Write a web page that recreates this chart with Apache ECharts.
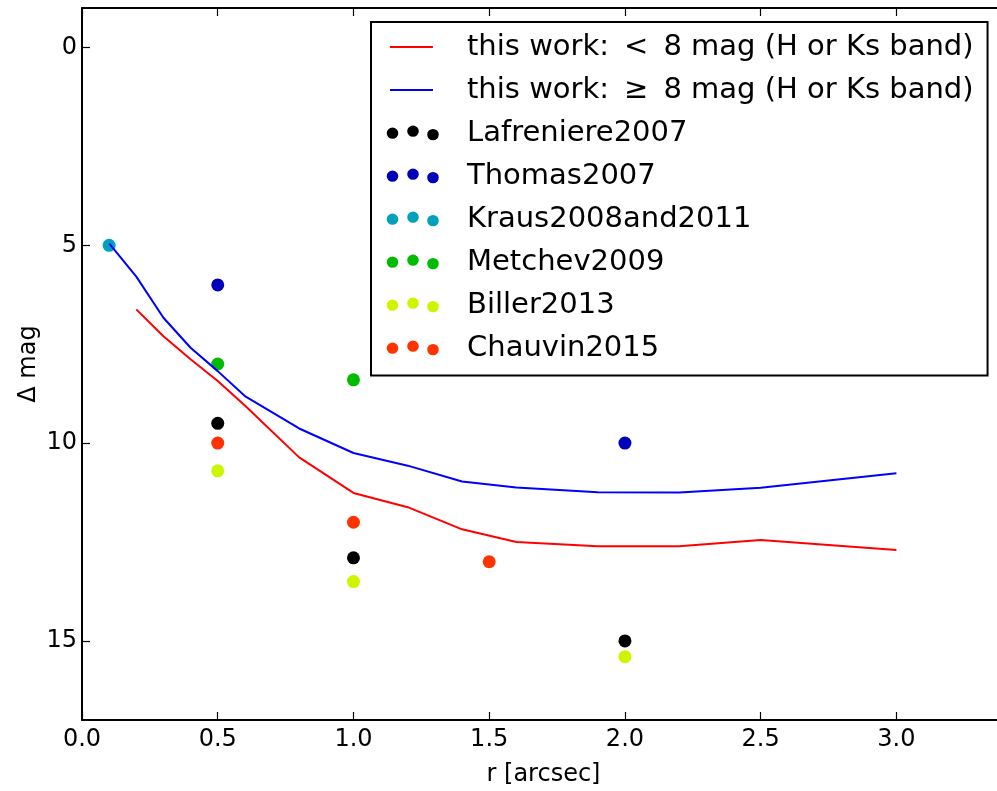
<!DOCTYPE html>
<html>
<head>
<meta charset="utf-8">
<script src="https://cdn.jsdelivr.net/npm/echarts@6/dist/echarts.min.js"></script>
<style>
  html, body { margin: 0; padding: 0; background: #fff; }
  #chart { width: 997px; height: 791px; }
</style>
</head>
<body>
<div id="chart"></div>
<script>
// Contrast curves from this work (separation in arcsec vs. delta magnitude)
const brightR   = [0.2, 0.3, 0.4, 0.5, 0.6, 0.8, 1.0, 1.2, 1.4, 1.6, 1.9, 2.2, 2.5, 3.0];
const brightMag = [6.62, 7.30, 7.88, 8.43, 9.05, 10.36, 11.26, 11.62, 12.18, 12.50, 12.61, 12.61, 12.45, 12.70];
const faintR    = [0.1, 0.2, 0.3, 0.4, 0.5, 0.6, 0.8, 1.0, 1.2, 1.4, 1.6, 1.9, 2.2, 2.5, 3.0];
const faintMag  = [4.95, 5.79, 6.83, 7.59, 8.18, 8.81, 9.63, 10.25, 10.57, 10.97, 11.12, 11.24, 11.25, 11.13, 10.76];

// Literature contrast limits: [r, delta mag]
const lafreniere2007 = [[0.5, 9.5], [1.0, 12.9], [2.0, 15.0]];
const thomas2007     = [[0.5, 6.0], [2.0, 10.0]];
const kraus2008      = [[0.1, 5.0]];
const metchev2009    = [[0.5, 8.0], [1.0, 8.4]];
const biller2013     = [[0.5, 10.7], [1.0, 13.5], [2.0, 15.4]];
const chauvin2015    = [[0.5, 10.0], [1.0, 12.0], [1.5, 13.0]];

// Axis ticks
const xTicks = [0.0, 0.5, 1.0, 1.5, 2.0, 2.5, 3.0];
const yTicks = [0, 5, 10, 15];

const lineNames = [
  'this work:\u2009 <\u2009 8 mag (H or Ks band)',
  'this work:\u2009 \u2265\u2009 8 mag (H or Ks band)'
];

const FONT = 'DejaVu Sans';

// legend glyphs: a short line, and three scattered dots
const lineIcon = 'path://M0,0L0.01,0M53,15L53.01,15M4,6.5L47,6.5L47,8.5L4,8.5Z';
function dot(cx, cy, r) {
  return 'M' + (cx - r) + ',' + cy + 'a' + r + ',' + r + ' 0 1,0 ' + (2 * r) + ',0' +
         'a' + r + ',' + r + ' 0 1,0 ' + (-2 * r) + ',0Z';
}
const dotsIcon = 'path://M0,0L0.01,0M53,15L53.01,15' +
  dot(6.5, 7.5, 5.8) + dot(27, 5.5, 5.8) + dot(47, 9, 5.8);

function zip(xs, ys) { return xs.map((x, i) => [x, ys[i]]); }

const scatterSets = [
  { name: 'Lafreniere2007',   color: '#000000', data: lafreniere2007 },
  { name: 'Thomas2007',       color: '#0000bb', data: thomas2007 },
  { name: 'Kraus2008and2011', color: '#00a2bb', data: kraus2008 },
  { name: 'Metchev2009',      color: '#00bb00', data: metchev2009 },
  { name: 'Biller2013',       color: '#ccf500', data: biller2013 },
  { name: 'Chauvin2015',      color: '#ff3300', data: chauvin2015 }
];

const axisLineStyle = { color: '#000', width: 2 };
const tickStyle = { color: '#000', width: 1.2 };

const option = {
  animation: false,
  backgroundColor: '#fff',
  // the frame runs slightly past the right edge of the canvas
  grid: { left: 82, top: 8, width: 923, height: 712, containLabel: false, outerBoundsMode: 'none' },
  legend: {
    left: 371, top: 22,
    orient: 'vertical',
    selectedMode: false,
    backgroundColor: '#fff',
    borderColor: '#000',
    borderWidth: 2,
    borderRadius: 0,
    padding: [3.5, 14, 6, 15],
    itemGap: 0,
    itemWidth: 53,
    itemHeight: 15,
    symbolKeepAspect: false,
    textStyle: {
      fontFamily: FONT, fontSize: 29, color: '#000',
      lineHeight: 43, padding: [0, 0, 0, 23]
    },
    data: [
      { name: lineNames[0], icon: lineIcon },
      { name: lineNames[1], icon: lineIcon }
    ].concat(scatterSets.map(s => ({ name: s.name, icon: dotsIcon })))
  },
  xAxis: [
    {
      type: 'value', position: 'bottom', min: 0, max: 3.4,
      name: 'r [arcsec]', nameLocation: 'middle', nameGap: 43,
      nameTextStyle: { fontFamily: FONT, fontSize: 24, color: '#000' },
      axisLine: { show: true, onZero: false, lineStyle: axisLineStyle },
      axisTick: { show: true, inside: true, length: 8, lineStyle: tickStyle, customValues: xTicks },
      axisLabel: {
        show: true, customValues: xTicks, margin: 8,
        fontFamily: FONT, fontSize: 24, color: '#000',
        formatter: v => v.toFixed(1)
      },
      splitLine: { show: false }
    },
    {
      type: 'value', position: 'top', min: 0, max: 3.4,
      axisLine: { show: true, onZero: false, lineStyle: axisLineStyle },
      axisTick: { show: true, inside: true, length: 8, lineStyle: tickStyle, customValues: xTicks },
      axisLabel: { show: false },
      splitLine: { show: false }
    }
  ],
  yAxis: [
    {
      type: 'value', position: 'left', inverse: true, min: -1, max: 17,
      name: '\u0394 mag', nameLocation: 'middle', nameGap: 41, nameMoveOverlap: false,
      nameTextStyle: { fontFamily: FONT, fontSize: 24, color: '#000' },
      axisLine: { show: true, onZero: false, lineStyle: axisLineStyle },
      axisTick: { show: true, inside: true, length: 8, lineStyle: tickStyle, customValues: yTicks },
      axisLabel: {
        show: true, customValues: yTicks, margin: 5,
        fontFamily: FONT, fontSize: 24, color: '#000'
      },
      splitLine: { show: false }
    }
  ],
  series: [
    {
      name: lineNames[0], type: 'line', z: 4,
      data: zip(brightR, brightMag),
      showSymbol: false, symbol: 'none',
      itemStyle: { color: '#ff0000' },
      lineStyle: { color: '#ff0000', width: 2 }
    },
    {
      name: lineNames[1], type: 'line', z: 4,
      data: zip(faintR, faintMag),
      showSymbol: false, symbol: 'none',
      itemStyle: { color: '#0000ff' },
      lineStyle: { color: '#0000ff', width: 2 }
    }
  ].concat(scatterSets.map(s => ({
    name: s.name, type: 'scatter', z: 2,
    data: s.data,
    symbol: 'circle', symbolSize: 13,
    itemStyle: { color: s.color, opacity: 1 }
  })))
};

const chart = echarts.init(document.getElementById('chart'), null, { renderer: 'canvas' });
chart.setOption(option);
</script>
</body>
</html>
